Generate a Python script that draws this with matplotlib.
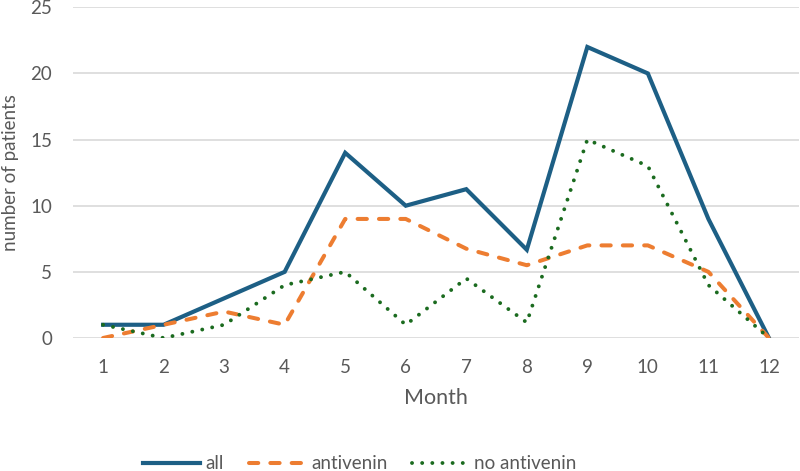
import matplotlib
matplotlib.use("Agg")
from matplotlib import pyplot as plt

months = [1, 2, 3, 4, 5, 6, 7, 8, 9, 10, 11, 12]
all_patients = [1, 1, 3, 5, 14, 10, 11.25, 6.67, 22, 20, 9, 0]
antivenin = [0, 1, 2, 1, 9, 9, 6.75, 5.5, 7, 7, 5, 0]
no_antivenin = [1, 0, 1, 4, 5, 1, 4.5, 1.17, 15, 13, 4, 0]

text_color = '#595959'
plt.rcParams['font.family'] = ['Lato', 'DejaVu Sans']

fig = plt.figure(figsize=(8, 4.71), dpi=100)
ax = fig.add_axes([0.091, 0.2824, 0.908, 0.7021])

ax.plot(months, all_patients, color='#1d5f85', lw=3.0, label='all',
        solid_joinstyle='miter')
ax.plot(months, antivenin, color='#ed7d31', lw=2.9, label='antivenin',
        dashes=(2.3, 3.0), dash_capstyle='round')
ax.plot(months, no_antivenin, color='#1b6b1f', lw=2.8, label='no antivenin',
        dashes=(0.01, 2.6), dash_capstyle='round')

ax.set_xlim(0.5, 12.5)
ax.set_ylim(0, 25)
ax.set_xticks(months)
ax.set_yticks(range(0, 26, 5))
ax.grid(axis='y', color='#d9d9d9', lw=1.2)
ax.set_axisbelow(True)
for s in ax.spines.values():
    s.set_visible(False)
ax.tick_params(length=0, labelsize=13.5, colors=text_color)
ax.tick_params(axis='x', pad=15)
ax.tick_params(axis='y', pad=15)

ax.set_xlabel('Month', fontsize=15.5, color=text_color, labelpad=9)
ax.set_ylabel('number of patients', fontsize=13.5, color=text_color, labelpad=8)

fig.legend(*ax.get_legend_handles_labels(), loc='center', bbox_to_anchor=(0.45, 0.015),
           ncol=3, frameon=False, fontsize=13.5, handlelength=3.0, columnspacing=1.3,
           handletextpad=0.33, labelcolor=text_color, borderpad=0)

fig.savefig('out.png', dpi=100)
